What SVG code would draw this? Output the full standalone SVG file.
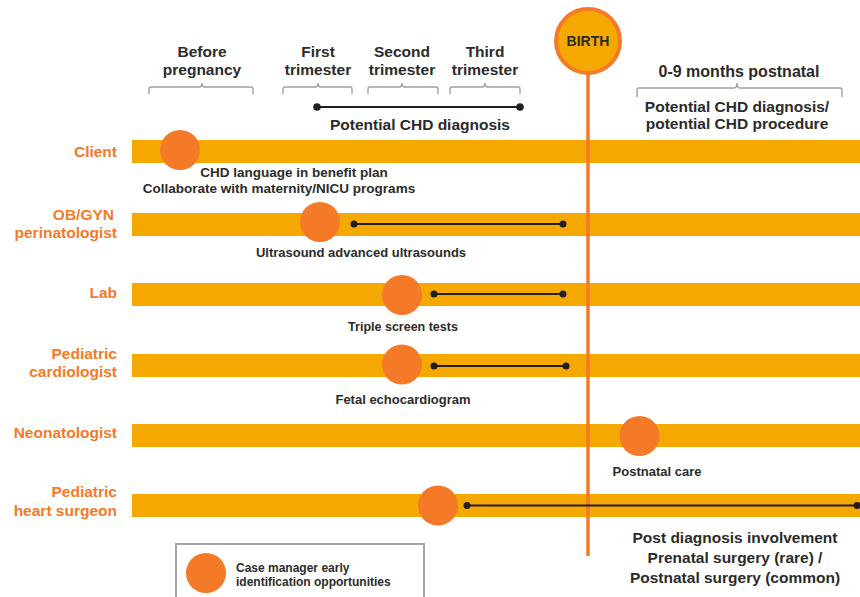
<svg xmlns="http://www.w3.org/2000/svg" width="860" height="597" viewBox="0 0 860 597">
<style>
text{font-family:"Liberation Sans",Arial,sans-serif;font-weight:bold}
.hd{font-size:15.5px;fill:#2b2b2b;text-anchor:middle}
.row{font-size:15.5px;fill:#f47a28;text-anchor:end}
.sub{font-size:13px;fill:#2b2b2b;text-anchor:middle}
.big{font-size:15.5px;fill:#2b2b2b;text-anchor:middle}
.bar{fill:#f5a800}
.dot{fill:#f47a28}
.br{fill:none;stroke:#a0a0a0;stroke-width:1.4}
.ln{stroke:#231f20;stroke-width:1.8}
.end{fill:#231f20}
</style>
<rect width="860" height="597" fill="#ffffff"/>

<g id="header">
<text class="hd" x="202" y="57">Before</text>
<text class="hd" x="202" y="75">pregnancy</text>
<path class="br" d="M149,94 V89 Q149,87 151,87 H199 Q202,87 202,83 Q202,87 205,87 H251 Q253,87 253,89 V94"/>
<text class="hd" x="318" y="57">First</text>
<text class="hd" x="318" y="75">trimester</text>
<path class="br" d="M283,94 V89 Q283,87 285,87 H315 Q318,87 318,83 Q318,87 321,87 H350 Q352,87 352,89 V94"/>
<text class="hd" x="402" y="57">Second</text>
<text class="hd" x="402" y="75">trimester</text>
<path class="br" d="M368,94 V89 Q368,87 370,87 H399 Q402,87 402,83 Q402,87 405,87 H436 Q438,87 438,89 V94"/>
<text class="hd" x="485" y="57">Third</text>
<text class="hd" x="485" y="75">trimester</text>
<path class="br" d="M450,94 V89 Q450,87 452,87 H482 Q485,87 485,83 Q485,87 488,87 H518 Q520,87 520,89 V94"/>
<text class="hd" x="420" y="130">Potential CHD diagnosis</text>
<text class="hd" x="739" y="77" style="font-size:16px">0-9 months postnatal</text>
<path class="br" d="M637,97 V90 Q637,88 639,88 H734 Q737,88 737,83 Q737,88 740,88 H840 Q842,88 842,90 V97"/>
<text class="hd" x="737" y="112">Potential CHD diagnosis/</text>
<text class="hd" x="737" y="129">potential CHD procedure</text>
</g>

<g id="bars">
<rect class="bar" x="132" y="140" width="728" height="23"/>
<rect class="bar" x="132" y="213" width="728" height="23"/>
<rect class="bar" x="132" y="283" width="728" height="23"/>
<rect class="bar" x="132" y="354" width="728" height="23"/>
<rect class="bar" x="132" y="424" width="728" height="23"/>
<rect class="bar" x="132" y="494" width="728" height="23"/>
</g>

<g id="birth">
<line x1="588" y1="72" x2="588" y2="556" stroke="#f47a28" stroke-width="3.5"/>
<circle cx="588" cy="41" r="32" fill="#f5a800" stroke="#f47a28" stroke-width="4"/>
<text x="588" y="46" style="font-size:14px;fill:#2b2b2b;text-anchor:middle">BIRTH</text>
</g>

<g id="connectors">
<line class="ln" x1="317" y1="107" x2="520" y2="107"/>
<circle class="end" cx="317" cy="107" r="3.8"/>
<circle class="end" cx="520" cy="107" r="3.8"/>
<line class="ln" x1="354" y1="224" x2="563" y2="224"/>
<circle class="end" cx="354" cy="224" r="3.5"/>
<circle class="end" cx="563" cy="224" r="3.5"/>
<line class="ln" x1="434" y1="294" x2="563" y2="294"/>
<circle class="end" cx="434" cy="294" r="3.5"/>
<circle class="end" cx="563" cy="294" r="3.5"/>
<line class="ln" x1="434" y1="366" x2="566" y2="366"/>
<circle class="end" cx="434" cy="366" r="3.5"/>
<circle class="end" cx="566" cy="366" r="3.5"/>
<line class="ln" x1="467" y1="505.5" x2="857" y2="505.5"/>
<circle class="end" cx="467" cy="505.5" r="3.5"/>
<circle class="end" cx="857" cy="505.5" r="3.5"/>
</g>

<g id="client">
<text class="row" x="117" y="157">Client</text>
<circle class="dot" cx="180" cy="150" r="20"/>
<text class="sub" x="294" y="177" style="font-size:13.5px">CHD language in benefit plan</text>
<text class="sub" x="279" y="193" style="font-size:13.5px">Collaborate with maternity/NICU programs</text>
</g>

<g id="obgyn">
<text class="row" x="114" y="220">OB/GYN</text>
<text class="row" x="117" y="238">perinatologist</text>
<circle class="dot" cx="320" cy="222" r="20"/>
<text class="sub" x="361" y="257">Ultrasound advanced ultrasounds</text>
</g>

<g id="lab">
<text class="row" x="117" y="298">Lab</text>
<circle class="dot" cx="402" cy="295" r="20"/>
<text class="sub" x="403" y="331" style="font-size:12.5px">Triple screen tests</text>
</g>

<g id="cardiologist">
<text class="row" x="117" y="359">Pediatric</text>
<text class="row" x="117" y="377">cardiologist</text>
<circle class="dot" cx="402" cy="364.5" r="20"/>
<text class="sub" x="403" y="404">Fetal echocardiogram</text>
</g>

<g id="neonatologist">
<text class="row" x="117" y="438">Neonatologist</text>
<circle class="dot" cx="639.5" cy="436" r="20"/>
<text class="sub" x="657" y="476">Postnatal care</text>
</g>

<g id="surgeon">
<text class="row" x="117" y="497">Pediatric</text>
<text class="row" x="117" y="516">heart surgeon</text>
<circle class="dot" cx="438" cy="505.5" r="20"/>
<text class="big" x="735" y="543">Post diagnosis involvement</text>
<text class="big" x="735" y="563">Prenatal surgery (rare) /</text>
<text class="big" x="735" y="583">Postnatal surgery (common)</text>
</g>

<g id="legend">
<rect x="176" y="544" width="248" height="60" fill="#ffffff" stroke="#a6a6a6" stroke-width="2"/>
<circle class="dot" cx="206" cy="573" r="20"/>
<text x="236" y="572" style="font-size:12px;fill:#2b2b2b">Case manager early</text>
<text x="236" y="586" style="font-size:12px;fill:#2b2b2b">identification opportunities</text>
</g>
</svg>
